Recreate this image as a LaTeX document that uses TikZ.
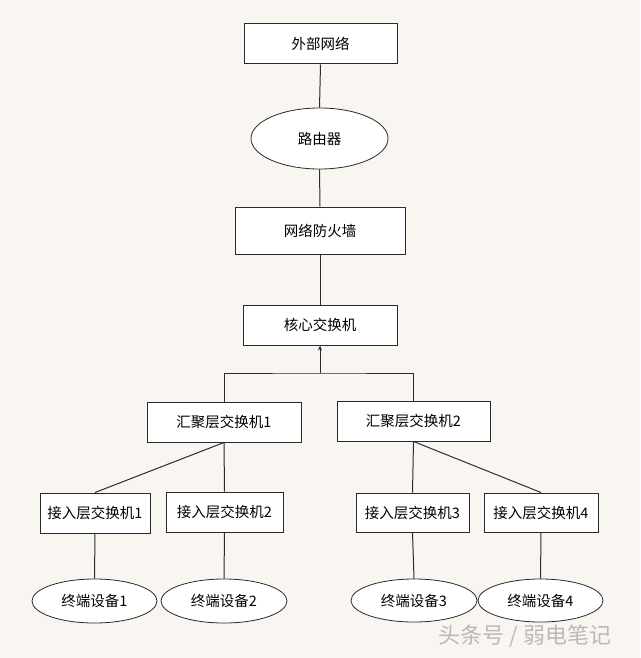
\documentclass[tikz,border=0pt]{standalone}
\usepackage{fontspec}
\setmainfont{Noto Sans CJK SC}
\usetikzlibrary{shapes.geometric,arrows.meta}
\definecolor{bg}{HTML}{F9F6F1}
\definecolor{ln}{HTML}{2A2A2A}
\begin{document}
\begin{tikzpicture}[x=1pt,y=-1pt,
  box/.style={draw=ln, line width=1pt, fill=white, rectangle, inner sep=0pt, font=\fontsize{14.5}{15}\selectfont},
  ell/.style={draw=ln, line width=0.8pt, fill=white, ellipse, inner sep=0pt, font=\fontsize{14.5}{15}\selectfont},
  conn/.style={draw=ln, line width=1pt}]
\useasboundingbox[fill=bg] (0,0) rectangle (640,658);
\node[box, minimum width=153pt, minimum height=40pt] (ext) at (320.5,44) {外部网络};
\node[ell, minimum width=137pt, minimum height=61pt] (router) at (319.5,138.5) {路由器};
\node[box, minimum width=170pt, minimum height=47pt] (fw) at (320,230.5) {网络防火墙};
\node[box, minimum width=154pt, minimum height=40pt] (core) at (320,325) {核心交换机};
\node[box, minimum width=154pt, minimum height=40pt] (agg1) at (224,422) {汇聚层交换机1};
\node[box, minimum width=153pt, minimum height=40pt] (agg2) at (413.5,421) {汇聚层交换机2};
\node[box, minimum width=110pt, minimum height=40pt] (acc1) at (95,513) {接入层交换机1};
\node[box, minimum width=117pt, minimum height=40pt] (acc2) at (224.5,512) {接入层交换机2};
\node[box, minimum width=113pt, minimum height=39pt] (acc3) at (412.5,512.5) {接入层交换机3};
\node[box, minimum width=114pt, minimum height=39pt] (acc4) at (541,512.5) {接入层交换机4};
\node[ell, minimum width=125pt, minimum height=44pt] (t1) at (94.5,601) {终端设备1};
\node[ell, minimum width=126pt, minimum height=44pt] (t2) at (224,601) {终端设备2};
\node[ell, minimum width=126pt, minimum height=43pt] (t3) at (414,600.5) {终端设备3};
\node[ell, minimum width=125pt, minimum height=43pt] (t4) at (540.5,600.5) {终端设备4};
\coordinate (bar) at (320,373);
\draw[conn] (ext.south) -- (router.north);
\draw[conn] (router.south) -- (fw.north);
\draw[conn] (fw.south) -- (core.north);
\draw[conn, -{Stealth[length=5pt,width=4pt]}] (bar) -- (core.south);
\draw[conn] (agg1.north) |- (bar) -| (agg2.north);
\draw[conn] (agg1.south) -- (acc1.north);
\draw[conn] (agg1.south) -- (acc2.north);
\draw[conn] (agg2.south) -- (acc3.north);
\draw[conn] (agg2.south) -- (acc4.north);
\draw[conn] (acc1.south) -- (t1.north);
\draw[conn] (acc2.south) -- (t2.north);
\draw[conn] (acc3.south) -- (t3.north);
\draw[conn] (acc4.south) -- (t4.north);
\node[text=gray!55, font=\fontsize{22}{23}\selectfont] (wm) at (525,636) {头条号 / 弱电笔记};
\end{tikzpicture}
\end{document}
